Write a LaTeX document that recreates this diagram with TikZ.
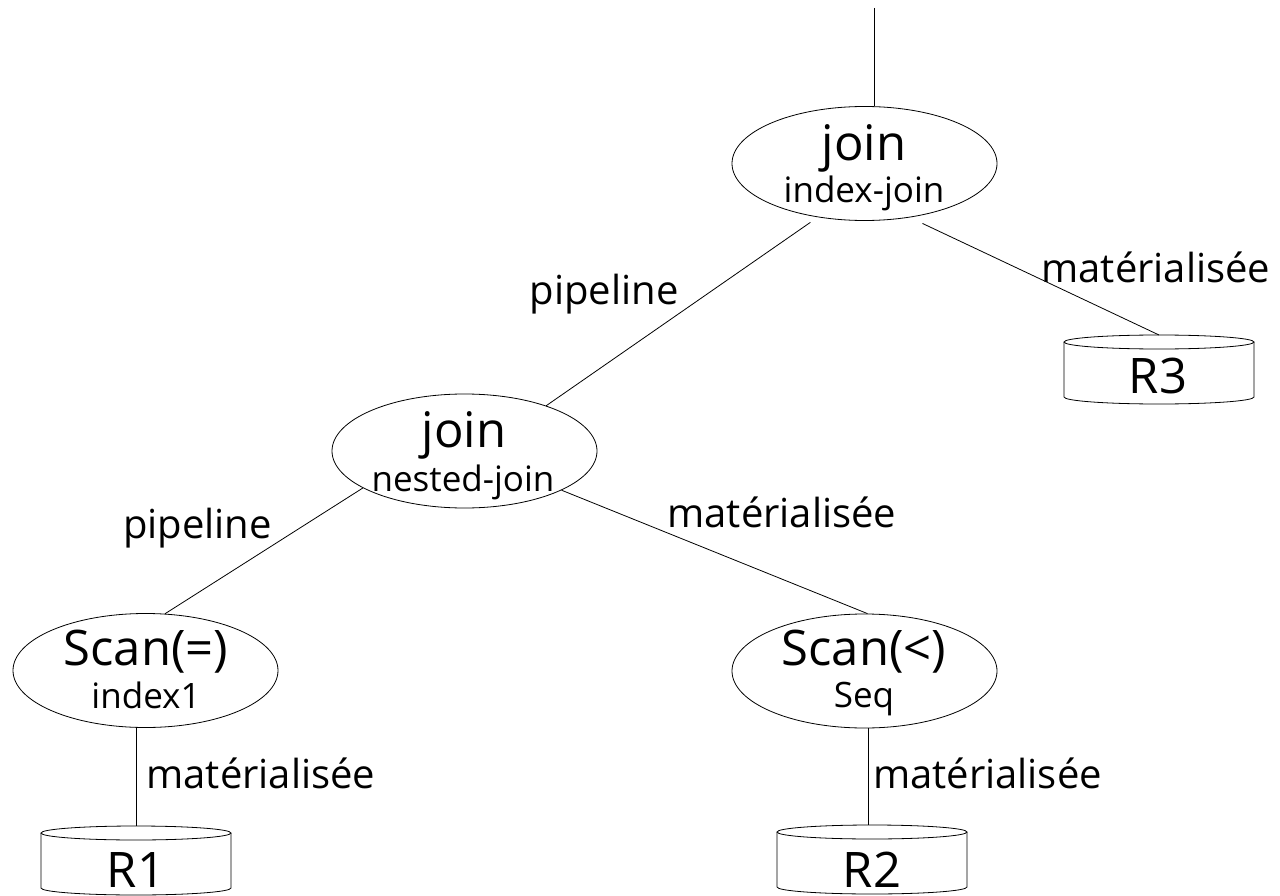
\documentclass[tikz,border=0pt]{standalone}
\usepackage{fontspec}
\setmainfont{Open Sans}
\usetikzlibrary{shapes.geometric}

\tikzset{
  op/.style={draw, ellipse, line width=0.8pt, minimum width=265pt, minimum height=114pt, inner sep=0pt},
  optxt/.style={anchor=base, inner sep=0pt, font=\fontsize{49}{52}\selectfont},
  subtxt/.style={anchor=base, inner sep=0pt, font=\fontsize{35}{38}\selectfont},
  lbl/.style={anchor=base, inner sep=0pt, font=\fontsize{40}{44}\selectfont},
  rel/.style={anchor=base, inner sep=0pt, font=\fontsize{49}{52}\selectfont},
  edge/.style={line width=0.8pt},
  cyl/.style={line width=0.8pt}
}

% relation stored on disk: a flat cylinder hanging from its top point
\newcommand{\diskrel}[1]{%
  \draw[cyl] (#1) ++(0,7) ellipse [x radius=95, y radius=7];
  \draw[cyl] (#1) ++(-95,7) -- ++(0,55) arc [start angle=180, end angle=0, x radius=95, y radius=7] -- ++(0,-55);
}

\begin{document}
\begin{tikzpicture}[x=1pt, y=-1pt]
\useasboundingbox (0,0) rectangle (1280,896);

% operators
\node[op] (top) at (864.5,163.5) {};
\node[optxt]  (topa) at (864,161) {join};
\node[subtxt] (topb) at (864,203) {index-join};

\node[op] (mid) at (464.5,451) {};
\node[optxt]  (mida) at (464,447) {join};
\node[subtxt] (midb) at (463,491) {nested-join};

\node[op] (s1) at (145.5,670.5) {};
\node[optxt]  (s1a) at (146,665) {Scan(=)};
\node[subtxt] (s1b) at (146,708) {index1};

\node[op] (s2) at (864.5,671) {};
\node[optxt]  (s2a) at (864,665) {Scan(<)};
\node[subtxt] (s2b) at (864,707) {Seq};

% stored relations
\coordinate (r1top) at (136,826);
\coordinate (r2top) at (872,825);
\coordinate (r3top) at (1159,335);
\diskrel{r1top}
\diskrel{r2top}
\diskrel{r3top}
\node[rel] (r1) at (136,887) {R1};
\node[rel] (r2) at (872,887) {R2};
\node[rel] (r3) at (1158,393) {R3};

% result of the plan
\coordinate (root) at (874,8);
\draw[edge] (root) -- (root |- top.north);

% edges of the plan
\draw[edge, shorten <=9pt] (top.229) -- (mid.29);
\draw[edge, shorten <=14pt] (top.310) -- (r3top);
\draw[edge] (mid.200) -- (s1.71);
\draw[edge] (mid.338) -- (s2.87);
\draw[edge] (s1.south -| r1top) -- (r1top);
\draw[edge] ([xshift=3.5pt]s2.south) -- ([xshift=3.5pt]s2.south |- r2top);

% transfer modes
\node[lbl] (l1) at (604,305) {pipeline};
\node[lbl] (l2) at (1156,282) {matérialisée};
\node[lbl] (l3) at (197.5,538) {pipeline};
\node[lbl] (l4) at (782,527) {matérialisée};
\node[lbl] (l5) at (261,788) {matérialisée};
\node[lbl] (l6) at (987.5,788) {matérialisée};
\end{tikzpicture}
\end{document}
